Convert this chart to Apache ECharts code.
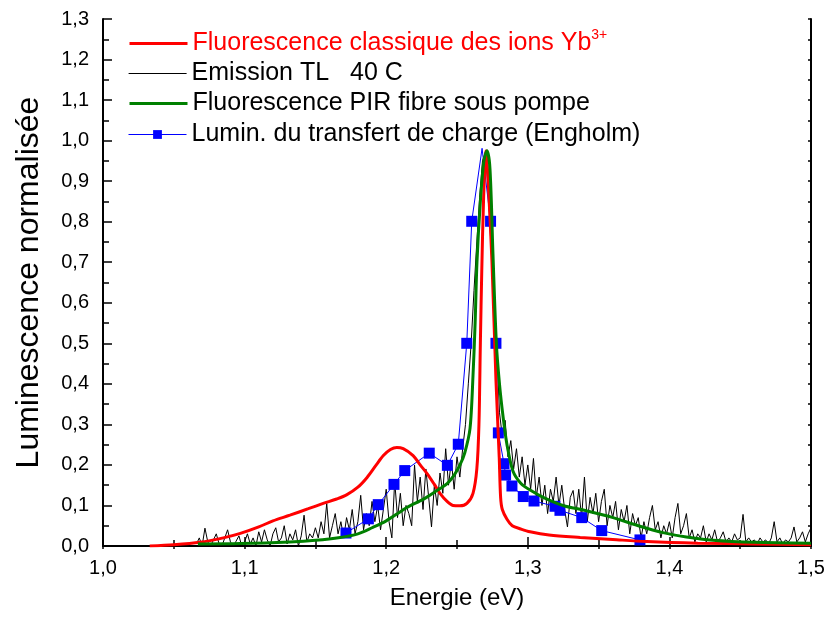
<!DOCTYPE html>
<html>
<head>
<meta charset="utf-8">
<script src="https://cdn.jsdelivr.net/npm/echarts@6/dist/echarts.min.js"></script>
<style>
  html, body { margin: 0; padding: 0; background: #fff; }
  #chart { width: 829px; height: 617px; }
</style>
</head>
<body>
<div id="chart"></div>
<script>
var FONT = '"Liberation Sans", Arial, sans-serif';

// axis ranges
var energyRange = [1.0, 1.5];
var lumRange = [0, 1.3];

var names = [
    'Fluorescence classique des ions Yb3+',
    'Emission TL   40 C',
    'Fluorescence PIR fibre sous pompe',
    'Lumin. du transfert de charge (Engholm)'
];

// red : classical Yb3+ fluorescence  [energy, intensity]
var ybFluo = [
    [1.033, 0], [1.05, 0.003], [1.0685, 0.009], [1.085, 0.02], [1.097, 0.031], [1.11, 0.047],
    [1.12, 0.062], [1.132, 0.076], [1.145, 0.092], [1.1555, 0.105], [1.165, 0.116], [1.172, 0.126],
    [1.18, 0.145], [1.1865, 0.169], [1.193, 0.2], [1.198, 0.223], [1.203, 0.238], [1.2075, 0.243],
    [1.212, 0.24], [1.219, 0.223], [1.224, 0.2], [1.229, 0.178], [1.234, 0.152], [1.238, 0.13],
    [1.243, 0.11], [1.2472, 0.1], [1.252, 0.099], [1.257, 0.105], [1.2613, 0.13], [1.264, 0.19],
    [1.2655, 0.3], [1.2665, 0.5], [1.2675, 0.68], [1.2688, 0.86], [1.2705, 0.975], [1.272, 0.9],
    [1.2747, 0.7], [1.2775, 0.41], [1.2798, 0.22], [1.2808, 0.12], [1.282, 0.09], [1.2853, 0.066],
    [1.289, 0.05], [1.295, 0.042], [1.3016, 0.035], [1.315, 0.027], [1.337, 0.021], [1.36, 0.016],
    [1.384, 0.011], [1.42, 0.007], [1.46, 0.005], [1.5, 0.003]
];

// green : PIR fluorescence of the pumped fibre
var pirFluo = [
    [1.067, 0.005], [1.097, 0.006], [1.132, 0.01], [1.15, 0.014], [1.1675, 0.021], [1.18, 0.03],
    [1.19, 0.045], [1.2, 0.062], [1.2147, 0.095], [1.226, 0.115], [1.235, 0.135], [1.243, 0.154],
    [1.248, 0.175], [1.2521, 0.2], [1.2555, 0.23], [1.2592, 0.29], [1.2613, 0.42], [1.2628, 0.55],
    [1.2641, 0.7], [1.2665, 0.85], [1.269, 0.95], [1.2712, 0.975], [1.2733, 0.93], [1.2754, 0.72],
    [1.2778, 0.5], [1.28, 0.4], [1.2825, 0.32], [1.2853, 0.25], [1.2895, 0.185], [1.295, 0.155],
    [1.3016, 0.138], [1.312, 0.118], [1.3249, 0.1], [1.34, 0.088], [1.3602, 0.07], [1.378, 0.05],
    [1.3955, 0.033], [1.412, 0.022], [1.4308, 0.014], [1.46, 0.009], [1.5, 0.007]
];

// blue : charge transfer luminescence (Engholm)
var engholm = [
    [1.1716, 0.032], [1.1874, 0.067], [1.1944, 0.102], [1.2055, 0.152], [1.2131, 0.186],
    [1.2304, 0.229], [1.2432, 0.199], [1.2509, 0.251], [1.2569, 0.5], [1.2604, 0.801],
    [1.2677, 0.981], [1.2737, 0.801], [1.2775, 0.5], [1.2792, 0.279], [1.2832, 0.203],
    [1.2843, 0.175], [1.2888, 0.148], [1.2968, 0.122], [1.3044, 0.111], [1.3192, 0.098],
    [1.3227, 0.088], [1.3381, 0.07], [1.3522, 0.038], [1.3792, 0.015]
];
var engholmNoMarker = [10];   // summit is drawn without a square

// black : TL emission, sampled every 2 meV from 1.066 eV
var tlStart = 1.066;
var tlStep = 0.002;
var tlValues = [
    0.005, 0.02, 0.0, 0.044, 0.01, 0.0, 0.015, 0.03, 0.005, 0.0, 0.02, 0.04, 0.01, 0.0, 0.012, 0.025, 0.0, 0.01,
    0.03, 0.005, 0.02, 0.0, 0.035, 0.01, 0.04, 0.015, 0.0, 0.03, 0.045, 0.01, 0.02, 0.05, 0.005, 0.03, 0.015, 0.04, 0.0, 0.025, 0.076, 0.01, 0.03, 0.02, 0.045,
    0.02, 0.06, 0.03, 0.105, 0.02, 0.05, 0.08, 0.03, 0.06, 0.02, 0.07, 0.04, 0.09, 0.03, 0.06, 0.125, 0.04, 0.08, 0.05, 0.11, 0.06, 0.1, 0.04, 0.09, 0.14,
    0.06, 0.02, 0.16, 0.07, 0.13, 0.05, 0.1, 0.08, 0.05, 0.2, 0.11, 0.17, 0.09, 0.19, 0.12, 0.047, 0.15, 0.1, 0.18, 0.13, 0.24, 0.15, 0.21, 0.14, 0.22,
    0.17, 0.24, 0.3, 0.4, 0.5, 0.63, 0.75, 0.86, 0.95, 0.97, 0.88, 0.74, 0.62, 0.5, 0.33, 0.27, 0.31, 0.22, 0.26, 0.19, 0.24, 0.17, 0.22, 0.15, 0.2,
    0.14, 0.216, 0.12, 0.17, 0.1, 0.15, 0.08, 0.14, 0.11, 0.17, 0.1, 0.15, 0.09, 0.047, 0.12, 0.137, 0.08, 0.14, 0.07, 0.17, 0.06, 0.12, 0.08, 0.13, 0.06,
    0.11, 0.14, 0.05, 0.1, 0.07, 0.11, 0.04, 0.09, 0.06, 0.1, 0.03, 0.08, 0.05, 0.07, 0.02, 0.06, 0.03, 0.07, 0.1, 0.04, 0.06, 0.02, 0.05, 0.03, 0.06,
    0.02, 0.07, 0.105, 0.03, 0.05, 0.08, 0.02, 0.04, 0.01, 0.03, 0.02, 0.05, 0.01, 0.03, 0.015, 0.04, 0.01, 0.02, 0.035, 0.01, 0.02, 0.01, 0.03, 0.015, 0.02,
    0.078, 0.01, 0.02, 0.01, 0.015, 0.005, 0.02, 0.01, 0.015, 0.005, 0.02, 0.06, 0.01, 0.02, 0.005, 0.015, 0.01, 0.02, 0.047, 0.01, 0.02, 0.035, 0.01, 0.03, 0.045
];

var tlData = tlValues.map(function (v, i) {
    return [+(tlStart + i * tlStep).toFixed(3), v];
});

var engholmData = engholm.map(function (p, i) {
    if (engholmNoMarker.indexOf(i) >= 0) {
        return { value: p, symbol: 'none' };
    }
    return p;
});

function comma(v) {
    return v.toFixed(1).replace('.', ',');
}

function legendAt(name, top, color, extra) {
    var l = {
        data: [name],
        left: 128,
        top: top,
        padding: 0,
        itemWidth: 58,
        itemHeight: 11,
        selectedMode: false,
        textStyle: { fontFamily: FONT, fontSize: 25, color: color }
    };
    if (extra) {
        for (var k in extra) l[k] = extra[k];
    }
    return l;
}

var myChart = echarts.init(document.getElementById('chart'));

var option = {
    backgroundColor: '#fff',
    animation: false,
    textStyle: { fontFamily: FONT },
    grid: { left: 103, right: 18, top: 19, bottom: 71, containLabel: false },
    legend: [
        legendAt(names[0], 28, '#ff0000', {
            itemStyle: { opacity: 0 },
            lineStyle: { color: '#ff0000', width: 3 },
            formatter: function () {
                return '{t|Fluorescence classique des ions Yb}{s|3+}';
            },
            textStyle: {
                fontFamily: FONT, fontSize: 25, color: '#ff0000',
                rich: {
                    t: { fontFamily: FONT, fontSize: 25, color: '#ff0000' },
                    s: { fontFamily: FONT, fontSize: 14, color: '#ff0000', padding: [0, 0, 17, 0] }
                }
            }
        }),
        legendAt(names[1], 61, '#000', { itemStyle: { opacity: 0 }, lineStyle: { color: '#000', width: 1.2 } }),
        legendAt(names[2], 91, '#000', { itemStyle: { opacity: 0 }, lineStyle: { color: '#008000', width: 3 } }),
        legendAt(names[3], 122, '#000', {
            itemStyle: { color: '#0000ff' },
            lineStyle: { color: '#0000ff', width: 1 }
        })
    ],
    xAxis: [{
        type: 'value',
        min: energyRange[0],
        max: energyRange[1],
        interval: 0.1,
        position: 'bottom',
        name: 'Energie (eV)',
        nameLocation: 'middle',
        nameGap: 40,
        nameTextStyle: { fontFamily: FONT, fontSize: 24, color: '#000' },
        axisLine: { lineStyle: { color: '#000', width: 2 } },
        axisTick: { inside: true, length: 9, lineStyle: { color: '#000', width: 1.5 } },
        minorTick: { show: true, splitNumber: 2, length: 6, lineStyle: { color: '#000', width: 1.5 } },
        axisLabel: { fontFamily: FONT, fontSize: 20, color: '#000', margin: 12, formatter: comma },
        splitLine: { show: false }
    }, {
        type: 'value',
        min: energyRange[0],
        max: energyRange[1],
        interval: 0.05,
        position: 'top',
        axisLine: { lineStyle: { color: '#000', width: 2 } },
        axisTick: { inside: true, length: 3, lineStyle: { color: '#000', width: 1.5 } },
        axisLabel: { show: false },
        splitLine: { show: false }
    }],
    yAxis: [{
        type: 'value',
        min: lumRange[0],
        max: lumRange[1],
        interval: 0.1,
        position: 'left',
        name: 'Luminescence normalisée',
        nameLocation: 'middle',
        nameGap: 58,
        nameTextStyle: { fontFamily: FONT, fontSize: 32, color: '#000' },
        axisLine: { lineStyle: { color: '#000', width: 2 } },
        axisTick: { inside: true, length: 9, lineStyle: { color: '#000', width: 1.5 } },
        minorTick: { show: true, splitNumber: 2, length: 6, lineStyle: { color: '#000', width: 1.5 } },
        axisLabel: { fontFamily: FONT, fontSize: 20, color: '#000', margin: 14, formatter: comma },
        splitLine: { show: false }
    }, {
        type: 'value',
        min: lumRange[0],
        max: lumRange[1],
        interval: 0.05,
        position: 'right',
        axisLine: { show: true, lineStyle: { color: '#000', width: 2 } },
        axisTick: { show: true, inside: true, length: 3, lineStyle: { color: '#000', width: 1.5 } },
        axisLabel: { show: false },
        splitLine: { show: false }
    }],
    series: [{
        name: names[0],
        type: 'line',
        data: ybFluo,
        symbol: 'none',
        smooth: 0.3,
        z: 4,
        lineStyle: { color: '#ff0000', width: 3 },
        itemStyle: { color: '#ff0000' }
    }, {
        name: names[1],
        type: 'line',
        data: tlData,
        symbol: 'none',
        z: 2,
        lineStyle: { color: '#000', width: 1 },
        itemStyle: { color: '#000' }
    }, {
        name: names[2],
        type: 'line',
        data: pirFluo,
        symbol: 'none',
        smooth: 0.3,
        z: 5,
        lineStyle: { color: '#008000', width: 3 },
        itemStyle: { color: '#008000' }
    }, {
        name: names[3],
        type: 'line',
        data: engholmData,
        symbol: 'rect',
        symbolSize: 11,
        z: 3,
        lineStyle: { color: '#0000ff', width: 1 },
        itemStyle: { color: '#0000ff' }
    }]
};

myChart.setOption(option);
</script>
</body>
</html>
